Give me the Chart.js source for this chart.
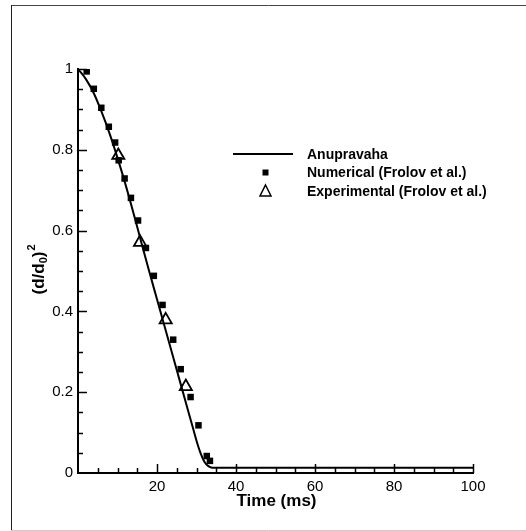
<!DOCTYPE html>
<html>
<head>
<meta charset="utf-8">
<script src="https://cdn.jsdelivr.net/npm/chart.js@4/dist/chart.umd.min.js"></script>
<style>
  html, body { margin: 0; padding: 0; background: #fff; }
  #wrap { width: 526px; height: 531px; position: relative; }
</style>
</head>
<body>
<div id="wrap"><canvas id="chartDrop"></canvas></div>
<script>
// Anupravaha simulation curve (time in ms, (d/d0)^2)
var simTime = [0, 2, 4, 6, 8, 10, 12, 14, 16, 18, 20, 22, 24, 26, 28, 29, 30, 31, 32, 33, 34, 40, 60, 80, 100];
var simValue = [1, 0.975, 0.94, 0.893, 0.84, 0.78, 0.715, 0.645, 0.572, 0.5, 0.43, 0.36, 0.29, 0.22, 0.15, 0.115, 0.08, 0.05, 0.028, 0.017, 0.013, 0.013, 0.013, 0.013, 0.013];

// Numerical (Frolov et al.)
var numTime = [2.2, 4.0, 5.9, 7.8, 9.4, 10.3, 11.8, 13.4, 15.2, 17.2, 19.2, 21.4, 24.1, 26.0, 28.5, 30.5, 32.6, 33.4];
var numValue = [0.994, 0.951, 0.904, 0.857, 0.818, 0.774, 0.729, 0.681, 0.625, 0.557, 0.488, 0.416, 0.330, 0.257, 0.188, 0.118, 0.042, 0.030];

// Experimental (Frolov et al.)
var expTime = [10.2, 15.7, 22.2, 27.3];
var expValue = [0.786, 0.571, 0.379, 0.214];

var xTicks = [20, 40, 60, 80, 100];
var yTicks = [0, 0.2, 0.4, 0.6, 0.8, 1];
var legendLabels = ["Anupravaha", "Numerical (Frolov et al.)", "Experimental (Frolov et al.)"];

function toPoints(xs, ys) {
  return xs.map(function(x, i) { return {x: x, y: ys[i]}; });
}

var fontName = "'Liberation Sans', Arial, sans-serif";

// frame, inward ticks, axis titles and legend
var decorPlugin = {
  id: 'decor',
  beforeDraw: function(chart) {
    var ctx = chart.ctx;
    ctx.save();
    ctx.fillStyle = '#fff';
    ctx.fillRect(0, 0, chart.width, chart.height);
    ctx.lineWidth = 1;
    ctx.strokeStyle = '#444';
    ctx.beginPath(); ctx.moveTo(11, 5.5); ctx.lineTo(526, 5.5); ctx.stroke();
    ctx.strokeStyle = '#222';
    ctx.beginPath(); ctx.moveTo(11.5, 5); ctx.lineTo(11.5, 531); ctx.stroke();
    ctx.strokeStyle = '#ccc';
    ctx.beginPath(); ctx.moveTo(11, 530.5); ctx.lineTo(526, 530.5); ctx.stroke();
    ctx.restore();
  },
  afterDraw: function(chart) {
    var ctx = chart.ctx;
    var xs = chart.scales.x, ys = chart.scales.y;
    var area = chart.chartArea;
    ctx.save();
    ctx.strokeStyle = '#000';
    ctx.lineWidth = 1.5;
    // x ticks pointing up
    for (var v = 5; v <= 100; v += 5) {
      var px = Math.round(xs.getPixelForValue(v)) + 0.5;
      var len = (v % 20 === 0) ? 9 : 5;
      ctx.beginPath(); ctx.moveTo(px, area.bottom); ctx.lineTo(px, area.bottom - len); ctx.stroke();
    }
    // y ticks pointing right
    for (var k = 1; k <= 20; k++) {
      var val = k * 0.05;
      var py = Math.round(ys.getPixelForValue(val)) + 0.5;
      var l2 = (k % 4 === 0) ? 9 : 5;
      ctx.beginPath(); ctx.moveTo(area.left, py); ctx.lineTo(area.left + l2, py); ctx.stroke();
    }

    // x title
    ctx.fillStyle = '#000';
    ctx.font = 'bold 17px ' + fontName;
    ctx.textAlign = 'center';
    ctx.textBaseline = 'middle';
    ctx.fillText('Time (ms)', (area.left + area.right) / 2 + 1, 501);

    // y title with sub/superscript
    ctx.translate(38, 270);
    ctx.rotate(-Math.PI / 2);
    ctx.textAlign = 'left';
    ctx.textBaseline = 'alphabetic';
    var big = 'bold 17px ' + fontName, small = 'bold 11px ' + fontName;
    ctx.font = big;
    var w1 = ctx.measureText('(d/d').width;
    ctx.font = small;
    var w2 = ctx.measureText('0').width;
    ctx.font = big;
    var w3 = ctx.measureText(')').width;
    ctx.font = small;
    var w4 = ctx.measureText('2').width;
    var x0 = -(w1 + w2 + w3 + w4) / 2;
    var base = 6;
    ctx.font = big; ctx.fillText('(d/d', x0, base);
    ctx.font = small; ctx.fillText('0', x0 + w1, base + 3);
    ctx.font = big; ctx.fillText(')', x0 + w1 + w2, base);
    ctx.font = small; ctx.fillText('2', x0 + w1 + w2 + w3 + 1, base - 9);
    ctx.setTransform(1, 0, 0, 1, 0, 0);

    // legend
    var rows = [154, 172.5, 191];
    ctx.font = 'bold 14px ' + fontName;
    ctx.textAlign = 'left';
    ctx.textBaseline = 'middle';
    ctx.lineWidth = 2;
    ctx.strokeStyle = '#000';
    ctx.beginPath(); ctx.moveTo(233, rows[0]); ctx.lineTo(293, rows[0]); ctx.stroke();
    ctx.fillRect(262.5, rows[1] - 3, 6, 6);
    ctx.lineWidth = 1.5;
    ctx.beginPath();
    ctx.moveTo(265.5, rows[2] - 6); ctx.lineTo(271, rows[2] + 5); ctx.lineTo(260, rows[2] + 5); ctx.closePath();
    ctx.stroke();
    for (var i = 0; i < legendLabels.length; i++) {
      ctx.fillText(legendLabels[i], 307, rows[i] + 1);
    }
    ctx.restore();
  }
};

var ctx = document.getElementById('chartDrop').getContext('2d');
var chart = new Chart(ctx, {
  type: 'scatter',
  data: {
    datasets: [
      {
        label: legendLabels[0],
        data: toPoints(simTime, simValue),
        showLine: true,
        borderColor: '#000',
        borderWidth: 2,
        pointRadius: 0,
        cubicInterpolationMode: 'monotone',
        fill: false
      },
      {
        label: legendLabels[1],
        data: toPoints(numTime, numValue),
        showLine: false,
        pointStyle: 'rect',
        pointRadius: 4.6,
        backgroundColor: '#000',
        borderColor: '#000',
        borderWidth: 0
      },
      {
        label: legendLabels[2],
        data: toPoints(expTime, expValue),
        showLine: false,
        pointStyle: 'triangle',
        pointRadius: 7,
        backgroundColor: 'rgba(255,255,255,0)',
        borderColor: '#000',
        borderWidth: 1.8
      }
    ]
  },
  options: {
    responsive: true,
    maintainAspectRatio: false,
    animation: false,
    layout: { padding: { left: 0, right: 53, top: 69, bottom: 0 } },
    plugins: {
      legend: { display: false },
      tooltip: { enabled: false }
    },
    scales: {
      x: {
        type: 'linear',
        min: 0,
        max: 100,
        afterFit: function(scale) { scale.height = 58; },
        afterBuildTicks: function(scale) {
          scale.ticks = xTicks.map(function(v) { return {value: v}; });
        },
        grid: { display: false, drawTicks: false },
        border: { display: true, color: '#000', width: 2 },
        ticks: {
          color: '#000',
          padding: 5,
          font: { family: fontName, size: 15 },
          maxRotation: 0
        }
      },
      y: {
        type: 'linear',
        min: 0,
        max: 1,
        afterFit: function(scale) { scale.width = 78; },
        afterBuildTicks: function(scale) {
          scale.ticks = yTicks.map(function(v) { return {value: v}; });
        },
        grid: { display: false, drawTicks: false },
        border: { display: true, color: '#000', width: 2 },
        ticks: {
          color: '#000',
          padding: 5,
          font: { family: fontName, size: 15 },
          callback: function(value) { return String(Math.round(value * 10) / 10); }
        }
      }
    }
  },
  plugins: [decorPlugin]
});
</script>
</body>
</html>
